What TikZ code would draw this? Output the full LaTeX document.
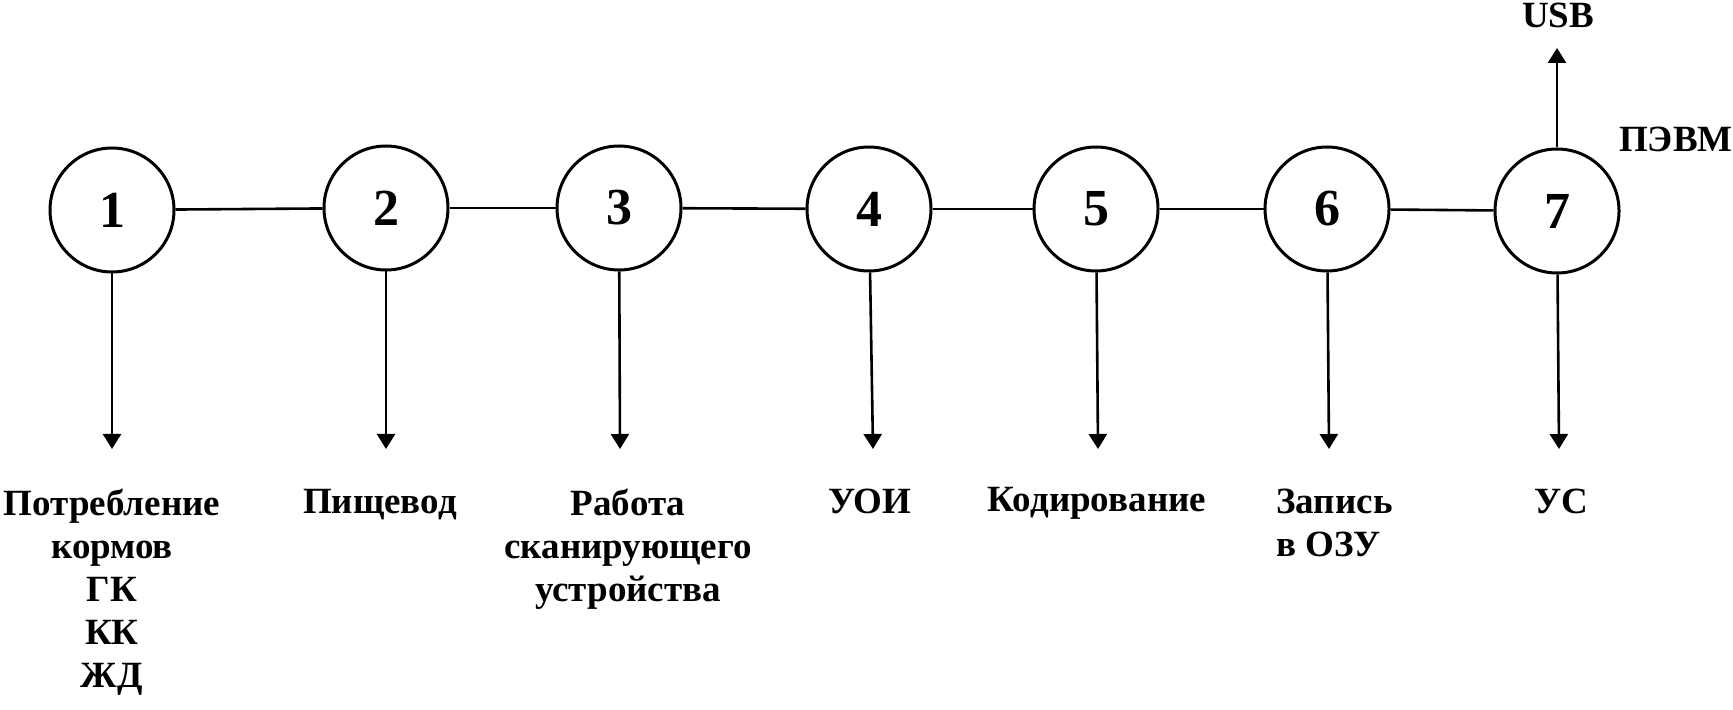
\documentclass[tikz,border=0pt]{standalone}
\usepackage{fontspec}
\setmainfont{Liberation Serif}
\usetikzlibrary{arrows.meta}
\begin{document}
\begin{tikzpicture}[x=0.5pt,y=-0.5pt,
 stage/.style={circle,draw,line width=1.5pt,minimum size=62pt,inner sep=0pt,font=\fontsize{26}{30}\selectfont\bfseries},
 lbl/.style={font=\fontsize{18.5}{21.5}\selectfont\bfseries,align=center,inner sep=0pt,anchor=north},
 link/.style={line width=1.3pt},
 arr/.style={line width=1.3pt,-{Triangle[length=7.5pt,width=9pt]}}]
\useasboundingbox (0,0) rectangle (1733,710);
% stages
\node[stage] (n1) at (112,210) {1};
\node[stage] (n2) at (386,208) {2};
\node[stage] (n3) at (619,208) {3};
\node[stage] (n4) at (869,209) {4};
\node[stage] (n5) at (1096,209) {5};
\node[stage] (n6) at (1327,209) {6};
\node[stage] (n7) at (1557,211) {7};
% chain
\draw[link] (n1) -- (n2);
\draw[link] (n2) -- (n3);
\draw[link] (n3) -- (n4);
\draw[link] (n4) -- (n5);
\draw[link] (n5) -- (n6);
\draw[link] (n6) -- (n7);
% arrow ends
\coordinate (e1) at (112,449);
\coordinate (e2) at (386,449);
\coordinate (e3) at (620,449);
\coordinate (e4) at (873,449);
\coordinate (e5) at (1098,449);
\coordinate (e6) at (1329,449);
\coordinate (e7) at (1559,449);
\coordinate (eu) at (1557,48);
\foreach \i in {1,...,7} {\draw[arr] (n\i) -- (e\i);}
\draw[arr] (n7) -- (eu);
% labels
\node[lbl] (l1) at (112,489) {Потребление\\кормов\\ГК\\КК\\ЖД};
\node[lbl] (l2) at (380,489) {Пищевод};
\node[lbl] (l3) at (628,489) {Работа\\сканирующего\\устройства};
\node[lbl] (l4) at (870,489) {УОИ};
\node[lbl] (l5) at (1097,487) {Кодирование};
\node[lbl,align=left,anchor=north west] (l6) at (1276,489) {Запись\\в ОЗУ};
\node[lbl] (l7) at (1561,489) {УС};
\node[lbl] (usb) at (1558,3) {USB};
\node[lbl,anchor=north east] (pc) at (1733,127) {ПЭВМ};
\end{tikzpicture}
\end{document}
